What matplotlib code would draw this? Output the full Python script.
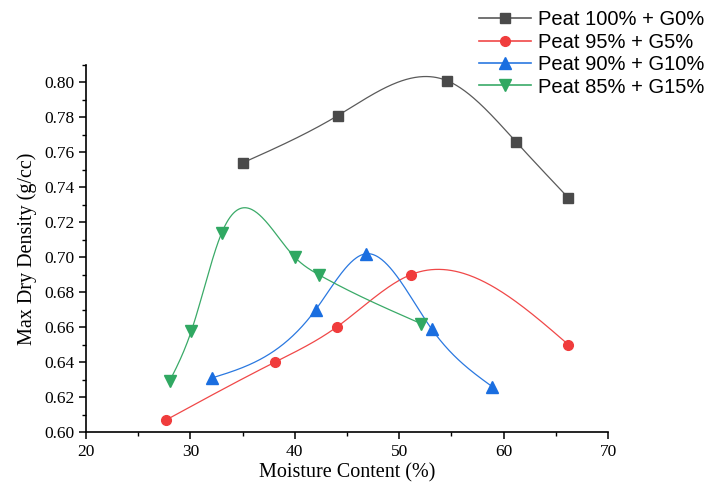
import numpy as np
import matplotlib
matplotlib.use("Agg")
import matplotlib.pyplot as plt
from matplotlib.ticker import MultipleLocator

labels = ["Peat 100% + G0%", "Peat 95% + G5%", "Peat 90% + G10%", "Peat 85% + G15%"]
x_g0 = [35.0, 44.1, 54.6, 61.2, 66.2]
y_g0 = [0.754, 0.781, 0.801, 0.766, 0.734]
x_g5 = [27.7, 38.1, 44.0, 51.1, 66.2]
y_g5 = [0.607, 0.640, 0.660, 0.690, 0.650]
x_g10 = [32.1, 42.0, 46.8, 53.1, 58.9]
y_g10 = [0.631, 0.670, 0.702, 0.659, 0.626]
x_g15 = [28.0, 30.1, 33.0, 40.0, 42.3, 52.1]
y_g15 = [0.629, 0.658, 0.714, 0.700, 0.690, 0.662]

line_colors = ["#5a5a5a", "#f04848", "#2a78e0", "#3aaa68"]
marker_colors = ["#4a4a4a", "#f03c3c", "#1a6ee0", "#30a862"]
markers = ["s", "o", "^", "v"]


def natural_spline(x, y, n=300):
    x = np.asarray(x, float)
    y = np.asarray(y, float)
    k = len(x)
    h = np.diff(x)
    A = np.zeros((k, k))
    b = np.zeros(k)
    A[0, 0] = 1
    A[-1, -1] = 1
    for i in range(1, k - 1):
        A[i, i - 1] = h[i - 1]
        A[i, i] = 2 * (h[i - 1] + h[i])
        A[i, i + 1] = h[i]
        b[i] = 3 * ((y[i + 1] - y[i]) / h[i] - (y[i] - y[i - 1]) / h[i - 1])
    c = np.linalg.solve(A, b)
    xs = np.linspace(x[0], x[-1], n)
    ys = np.empty_like(xs)
    for j, xv in enumerate(xs):
        i = min(np.searchsorted(x, xv, side="right") - 1, k - 2)
        i = max(i, 0)
        bi = (y[i + 1] - y[i]) / h[i] - h[i] * (2 * c[i] + c[i + 1]) / 3
        di = (c[i + 1] - c[i]) / (3 * h[i])
        dx = xv - x[i]
        ys[j] = y[i] + bi * dx + c[i] * dx ** 2 + di * dx ** 3
    return xs, ys


fig = plt.figure(figsize=(7.18, 4.82), dpi=100)
ax = fig.add_axes([0.1198, 0.1037, 0.7270, 0.7614])

series = [(x_g0, y_g0), (x_g5, y_g5), (x_g10, y_g10), (x_g15, y_g15)]
handles = []
for (xv, yv), lab, lc, mc, mk in zip(series, labels, line_colors, marker_colors, markers):
    xs, ys = natural_spline(xv, yv)
    ax.plot(xs, ys, color=lc, lw=0.9, zorder=2)
    ax.plot(xv, yv, linestyle="none", marker=mk, ms=8 if mk in "^v" else 7,
            color=mc, mec=mc, zorder=3)
    h, = ax.plot([], [], color=lc, lw=1.2, marker=mk, ms=8 if mk in "^v" else 7,
                 mfc=mc, mec=mc, label=lab)
    handles.append(h)

ax.set_xlim(20, 70)
ax.set_ylim(0.60, 0.81)
ax.xaxis.set_major_locator(MultipleLocator(10))
ax.xaxis.set_minor_locator(MultipleLocator(5))
ax.yaxis.set_major_locator(MultipleLocator(0.02))
ax.yaxis.set_minor_locator(MultipleLocator(0.01))
ax.yaxis.set_major_formatter(matplotlib.ticker.FormatStrFormatter("%.2f"))
for s in ["top", "right"]:
    ax.spines[s].set_visible(False)
for s in ["left", "bottom"]:
    ax.spines[s].set_linewidth(1.2)
ax.tick_params(which="major", direction="out", length=5, width=1.1,
               labelsize=12.5, labelfontfamily="Liberation Serif")
ax.tick_params(which="minor", direction="out", length=3, width=1.0)

ax.set_xlabel("Moisture Content (%)", fontsize=14.5, family="Liberation Serif", labelpad=2.5)
ax.set_ylabel("Max Dry Density (g/cc)", fontsize=14.5, family="Liberation Serif", labelpad=5)

fig.legend(handles=handles, loc="upper left", bbox_to_anchor=(0.647, 1.008),
           frameon=False, prop={"family": "Liberation Sans", "size": 14.5},
           handlelength=2.6, handletextpad=0.35, labelspacing=0.17, borderpad=0.2)

fig.savefig("out.png", dpi=100)
